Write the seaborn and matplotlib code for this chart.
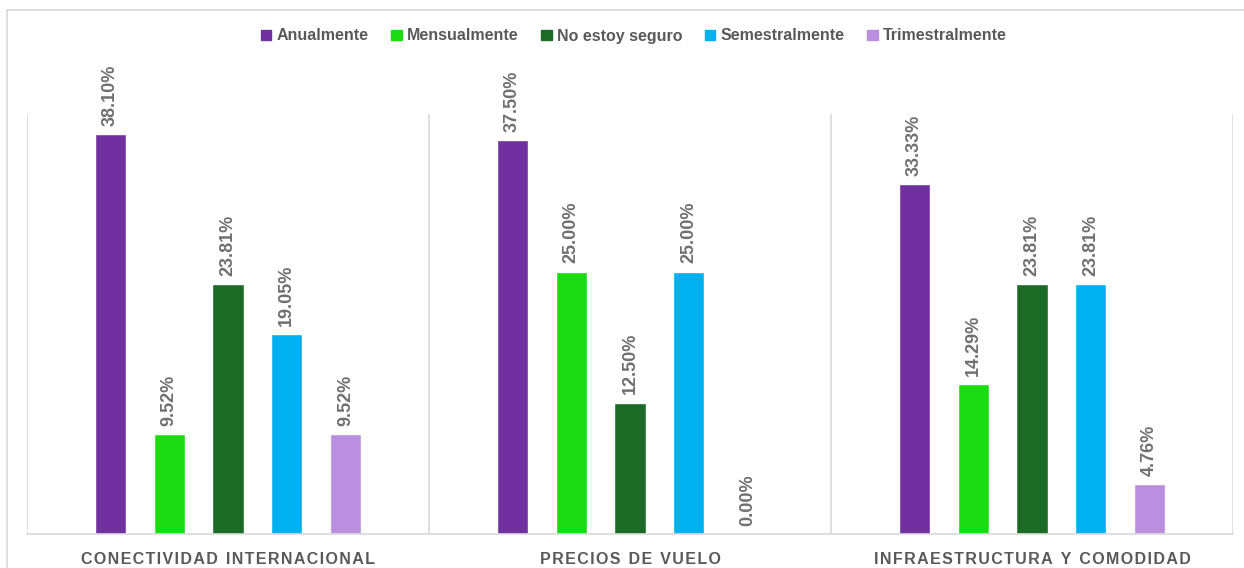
import matplotlib
matplotlib.use("Agg")
import matplotlib.pyplot as plt
from matplotlib.patches import Rectangle
from matplotlib.lines import Line2D
import seaborn as sns
import pandas as pd

# Survey results: how often respondents travel, split by deciding factor
factors = ["CONECTIVIDAD INTERNACIONAL", "PRECIOS DE VUELO", "INFRAESTRUCTURA Y COMODIDAD"]
frequencies = ["Anualmente", "Mensualmente", "No estoy seguro", "Semestralmente", "Trimestralmente"]
conectividad = [38.10, 9.52, 23.81, 19.05, 9.52]
precios = [37.50, 25.00, 12.50, 25.00, 0.00]
infraestructura = [33.33, 14.29, 23.81, 23.81, 4.76]
palette = ["#7030A0", "#1BDB13", "#1B6B26", "#00B0F0", "#BB8FDF"]

rows = []
for factor, values in zip(factors, [conectividad, precios, infraestructura]):
    for freq, v in zip(frequencies, values):
        rows.append({"factor": factor, "frecuencia": freq, "valor": v})
df = pd.DataFrame(rows)

sns.set_theme(style="white")
plt.rcParams["font.family"] = ["Liberation Sans", "DejaVu Sans"]
text_gray = "#595959"
label_gray = "#707070"
line_gray = "#D9D9D9"

fig = plt.figure(figsize=(12.44, 5.68), dpi=100)
ax = fig.add_axes([27 / 1244, 34 / 568, (1233 - 27) / 1244, (534 - 114) / 568])

sns.barplot(data=df, x="factor", y="valor", hue="frecuencia", order=factors,
            hue_order=frequencies, palette=palette, width=0.731, gap=0.47,
            saturation=1, errorbar=None, ax=ax, legend=False)

ax.set_xlim(-0.5, 2.5)
ax.set_ylim(0, 40)
ax.set_xlabel("")
ax.set_ylabel("")
ax.set_yticks([])
for s in ["top", "right", "left"]:
    ax.spines[s].set_visible(False)
ax.spines["bottom"].set_color(line_gray)
ax.spines["bottom"].set_linewidth(1.2)

# separators between categories
for xb in [-0.5, 0.5, 1.5, 2.5]:
    ax.axvline(xb, color=line_gray, lw=1.2, zorder=0)

# spaced-out category labels
def spaced(s):
    return "\u200a".join(s).replace("\u200a \u200a", "\u2002")

ax.set_xticks(range(len(factors)))
ax.set_xticklabels([spaced(f) for f in factors], fontsize=11.5, fontweight="bold",
                   color=text_gray)
ax.tick_params(axis="x", length=0, pad=13)

# value labels above each bar
for container in ax.containers:
    for bar in container:
        h = bar.get_height()
        ax.annotate(f"{h:.2f}%", (bar.get_x() + bar.get_width() / 2, h),
                    xytext=(0, 6), textcoords="offset points", rotation=90,
                    ha="center", va="bottom", fontsize=13, fontweight="bold",
                    color=label_gray)

# legend
handles = [Rectangle((0, 0), 1, 1, color=c) for c in palette]
leg = fig.legend(handles, frequencies, loc="center", bbox_to_anchor=(634 / 1244, 1 - 36 / 568),
                 ncol=5, frameon=False, handlelength=0.65, handleheight=0.65,
                 handletextpad=0.35, columnspacing=1.4,
                 prop={"family": ["Liberation Sans", "DejaVu Sans"], "size": 11.5, "weight": "bold"})
for t in leg.get_texts():
    t.set_color(text_gray)

# chart frame (left and top edges)
fig.add_artist(Line2D([7.5 / 1244, 7.5 / 1244], [0, 1 - 9.5 / 568],
                      transform=fig.transFigure, color=line_gray, lw=1.2))
fig.add_artist(Line2D([7.5 / 1244, 1], [1 - 9.5 / 568, 1 - 9.5 / 568],
                      transform=fig.transFigure, color=line_gray, lw=1.2))

fig.savefig("out.png", dpi=100)
